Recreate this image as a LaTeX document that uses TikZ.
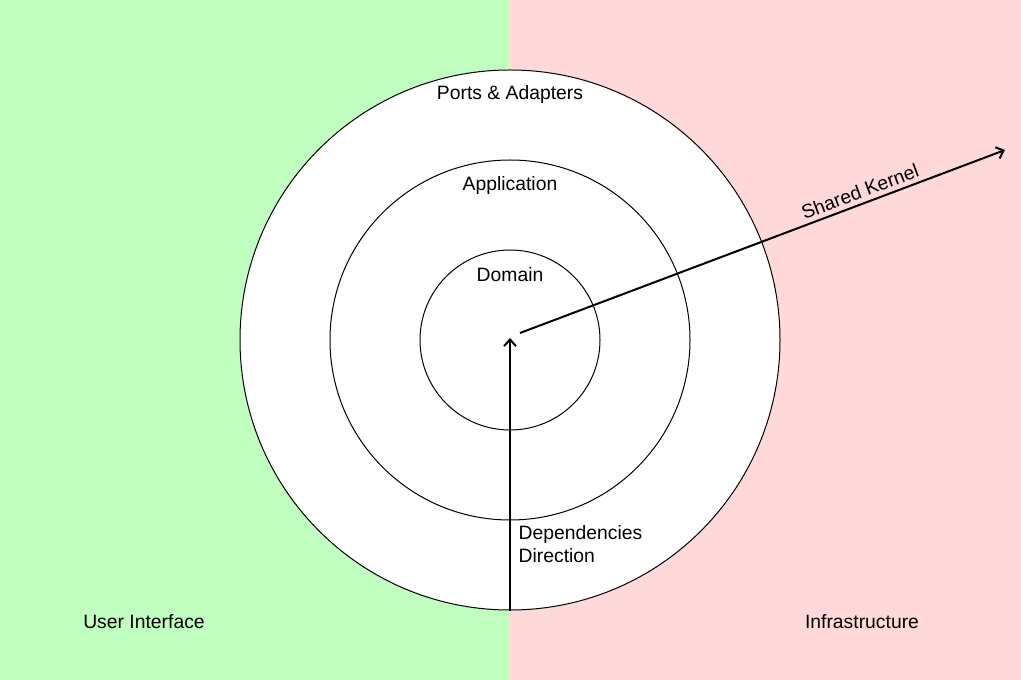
\documentclass[tikz,border=0pt]{standalone}
\usepackage{fontspec}
\setmainfont{Liberation Sans}
\usetikzlibrary{arrows.meta}
\definecolor{uigreen}{HTML}{C0FFC0}
\definecolor{infrapink}{HTML}{FFD9D9}
\begin{document}
\begin{tikzpicture}[x=0.75pt,y=-0.75pt,>={Straight Barb[length=5pt,width=9pt]},
  ring/.style={circle,draw,fill=white,line width=0.75pt,inner sep=0pt},
  lbl/.style={font=\fontsize{14.5}{17}\selectfont}]
% background halves
\fill[uigreen] (0,0) rectangle (510,680);
\fill[infrapink] (510,0) rectangle (1021,680);
\useasboundingbox (0,0) rectangle (1021,680);
% layers
\coordinate (c) at (510,340);
\node[ring,minimum size=405pt] (ports) at (c) {};
\node[ring,minimum size=270pt] (app) at (c) {};
\node[ring,minimum size=135pt] (dom) at (c) {};
\node[lbl] (portslbl) at (510,95) {Ports \& Adapters};
\node[lbl] (applbl) at (510,186) {Application};
\node[lbl] (domlbl) at (510,275) {Domain};
% dependencies arrow
\coordinate (tip) at (510,338);
\draw[->,line width=1.5pt] (ports.south) -- (tip);
\node[lbl,align=left,anchor=north west] (deplbl) at (514,521) {Dependencies\\Direction};
% shared kernel arrow
\coordinate (skstart) at (520,333);
\coordinate (skend) at (1005,150);
\draw[->,line width=1.5pt] (skstart) -- (skend) node[lbl,pos=0.71,above,sloped] (sklbl) {Shared Kernel};
% zones
\node[lbl] (uilbl) at (144,622) {User Interface};
\node[lbl] (infralbl) at (862,622) {Infrastructure};
\end{tikzpicture}
\end{document}
